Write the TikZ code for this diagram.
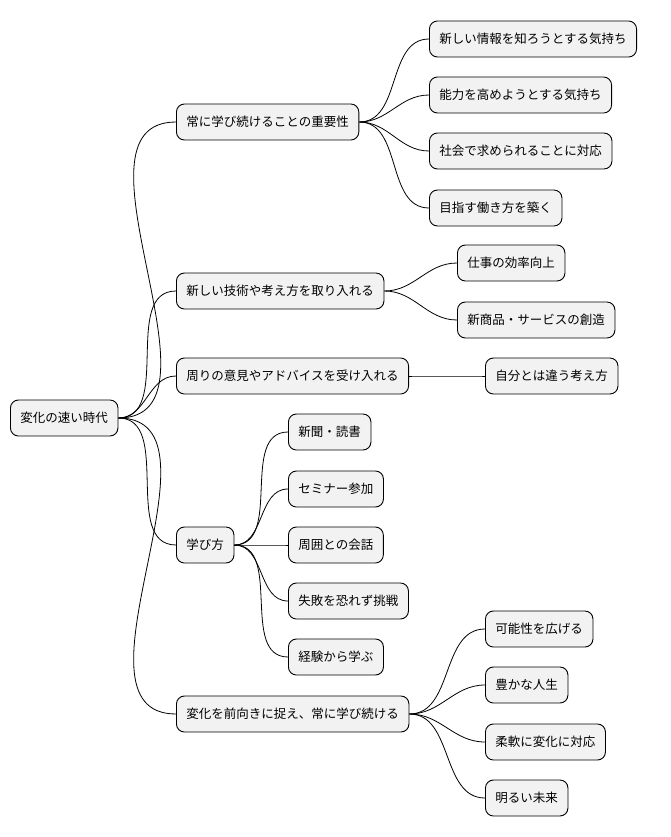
\documentclass[tikz,border=0pt]{standalone}
\usepackage{fontspec}
\newfontfamily\cjk{Noto Sans CJK JP}
\begin{document}
\begin{tikzpicture}[x=1pt,y=1pt,
  box/.style={draw=black,line width=0.9pt,fill=gray!10,rounded corners=8pt,anchor=west,
    minimum height=36pt,inner xsep=10pt,font=\cjk\fontsize{12.5}{14}\selectfont},
  link/.style={draw=black,line width=0.8pt}]
\useasboundingbox (0,0) rectangle (670,-837);
\node[box] (r) at (10,-418) {変化の速い時代};
\node[box] (a) at (176,-122) {常に学び続けることの重要性};
\node[box] (b) at (176,-291) {新しい技術や考え方を取り入れる};
\node[box] (c) at (176,-376) {周りの意見やアドバイスを受け入れる};
\node[box] (d) at (176,-545) {学び方};
\node[box] (e) at (176,-714) {変化を前向きに捉え、常に学び続ける};
\node[box] (a1) at (429,-39) {新しい情報を知ろうとする気持ち};
\node[box] (a2) at (429,-95) {能力を高めようとする気持ち};
\node[box] (a3) at (429,-151) {社会で求められることに対応};
\node[box] (a4) at (429,-208) {目指す働き方を築く};
\node[box] (b1) at (457,-263) {仕事の効率向上};
\node[box] (b2) at (457,-320) {新商品・サービスの創造};
\node[box] (c1) at (485,-376) {自分とは違う考え方};
\node[box] (d1) at (288,-432) {新聞・読書};
\node[box] (d2) at (288,-489) {セミナー参加};
\node[box] (d3) at (288,-545) {周囲との会話};
\node[box] (d4) at (288,-601) {失敗を恐れず挑戦};
\node[box] (d5) at (288,-657) {経験から学ぶ};
\node[box] (e1) at (485,-629) {可能性を広げる};
\node[box] (e2) at (485,-685) {豊かな人生};
\node[box] (e3) at (485,-742) {柔軟に変化に対応};
\node[box] (e4) at (485,-798) {明るい未来};
\foreach \p/\c in {r/a,r/b,r/c,r/d,r/e,a/a1,a/a2,a/a3,a/a4,b/b1,b/b2,c/c1,d/d1,d/d2,d/d3,d/d4,d/d5,e/e1,e/e2,e/e3,e/e4}
  \draw[link] (\p.east) to[out=0,in=180] (\c.west);
\end{tikzpicture}
\end{document}
